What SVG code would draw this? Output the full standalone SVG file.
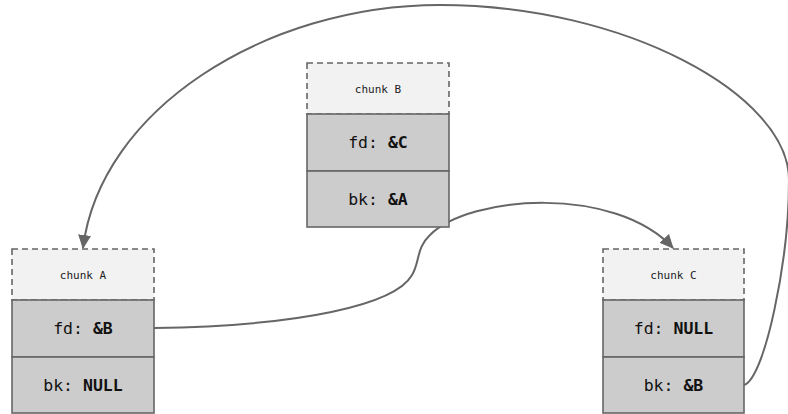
<svg xmlns="http://www.w3.org/2000/svg" width="788" height="414" viewBox="0 0 788 414">
  <style>
    .hdr { fill: #f2f2f2; stroke: #666; stroke-width: 1.6; stroke-dasharray: 6 4; }
    .cell { fill: #cccccc; stroke: #666; stroke-width: 1.6; }
    .title { font-family: "DejaVu Sans Mono", "Liberation Mono", monospace; font-size: 11px; fill: #222; text-anchor: middle; }
    .field { font-family: "DejaVu Sans Mono", "Liberation Mono", monospace; font-size: 16.5px; fill: #111; text-anchor: middle; }
    .val { font-weight: bold; }
    .link { fill: none; stroke: #666; stroke-width: 2; }
  </style>
  <defs>
    <marker id="arrow" viewBox="0 0 14 14" refX="13" refY="7" markerWidth="14" markerHeight="14" markerUnits="userSpaceOnUse" orient="auto">
      <path d="M0,0.5 L14,7 L0,13.5 Z" fill="#666"/>
    </marker>
  </defs>

  <g id="connectors">
    <!-- C.bk -> A -->
    <path class="link" marker-end="url(#arrow)" d="M744,385 C765,378 789,260 789,180 C789,95 625,5 440,5 C265,5 100,110 83,248"/>
    <!-- A.fd -> C -->
    <path class="link" marker-end="url(#arrow)" d="M154,328 C300,326 395,305 412,275 C420,262 416,248 430,235 C470,195 615,185 673,248"/>
  </g>

  <g id="chunk-B">
    <rect class="hdr" x="307" y="63" width="142" height="51"/>
    <rect class="cell" x="307" y="114" width="142" height="57"/>
    <rect class="cell" x="307" y="171" width="142" height="56"/>
    <text class="title" x="378" y="92.5">chunk B</text>
    <text class="field" x="378" y="148">fd: <tspan class="val">&amp;C</tspan></text>
    <text class="field" x="378" y="205">bk: <tspan class="val">&amp;A</tspan></text>
  </g>

  <g id="chunk-A">
    <rect class="hdr" x="12" y="249" width="142" height="51"/>
    <rect class="cell" x="12" y="300" width="142" height="57"/>
    <rect class="cell" x="12" y="357" width="142" height="56"/>
    <text class="title" x="83" y="278.5">chunk A</text>
    <text class="field" x="83" y="334">fd: <tspan class="val">&amp;B</tspan></text>
    <text class="field" x="83" y="391">bk: <tspan class="val">NULL</tspan></text>
  </g>

  <g id="chunk-C">
    <rect class="hdr" x="603" y="249" width="141" height="51"/>
    <rect class="cell" x="603" y="300" width="141" height="57"/>
    <rect class="cell" x="603" y="357" width="141" height="56"/>
    <text class="title" x="673.5" y="278.5">chunk C</text>
    <text class="field" x="673.5" y="334">fd: <tspan class="val">NULL</tspan></text>
    <text class="field" x="673.5" y="391">bk: <tspan class="val">&amp;B</tspan></text>
  </g>
</svg>
